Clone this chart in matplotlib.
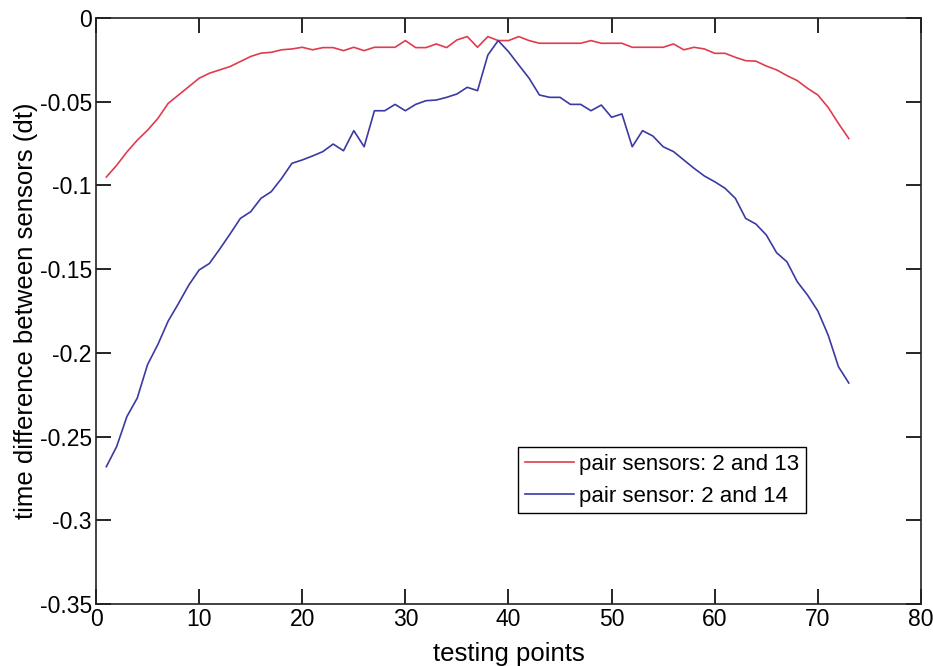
import matplotlib
matplotlib.use('Agg')
import matplotlib.pyplot as plt

# testing point index 1..73
points = list(range(1, 74))

# pair sensors 2 and 13
dt_2_13 = [-0.095, -0.088, -0.080, -0.073, -0.067, -0.060, -0.051, -0.046, -0.041, -0.036,
           -0.033, -0.031, -0.029, -0.026, -0.023, -0.021, -0.0205, -0.019, -0.0185, -0.0175,
           -0.019, -0.0177, -0.0177, -0.0195, -0.0175, -0.0195, -0.0175, -0.0175, -0.0175, -0.0135,
           -0.0177, -0.0177, -0.0155, -0.0177, -0.0131, -0.0111, -0.0175, -0.0111, -0.0135, -0.0135,
           -0.0111, -0.0135, -0.0151, -0.0151, -0.0151, -0.0151, -0.0151, -0.0135, -0.0151, -0.0151,
           -0.0151, -0.0175, -0.0175, -0.0175, -0.0175, -0.0155, -0.019, -0.0175, -0.0185, -0.0211,
           -0.0211, -0.0235, -0.0255, -0.0258, -0.0287, -0.031, -0.0344, -0.0374, -0.042, -0.046,
           -0.0534, -0.063, -0.072]

# pair sensors 2 and 14
dt_2_14 = [-0.268, -0.256, -0.238, -0.227, -0.207, -0.195, -0.181, -0.1705, -0.1595, -0.1505,
           -0.1466, -0.138, -0.129, -0.1197, -0.1157, -0.1077, -0.1037, -0.0958, -0.0868, -0.0848,
           -0.0824, -0.0798, -0.0753, -0.0793, -0.0673, -0.0769, -0.0554, -0.0554, -0.0516, -0.0554,
           -0.0516, -0.0494, -0.049, -0.0474, -0.0454, -0.0414, -0.0434, -0.0221, -0.0135, -0.0201,
           -0.0281, -0.036, -0.046, -0.0474, -0.0474, -0.0516, -0.0516, -0.0554, -0.052, -0.0593,
           -0.0573, -0.0769, -0.0673, -0.0705, -0.0769, -0.0798, -0.0848, -0.0898, -0.0944, -0.0978,
           -0.1017, -0.1077, -0.1197, -0.1231, -0.1296, -0.1402, -0.1456, -0.1575, -0.1655, -0.175,
           -0.1894, -0.2083, -0.218]

xticks = [0, 10, 20, 30, 40, 50, 60, 70, 80]
yticks = [0, -0.05, -0.1, -0.15, -0.2, -0.25, -0.3, -0.35]
ytick_labels = ['0', '-0.05', '-0.1', '-0.15', '-0.2', '-0.25', '-0.3', '-0.35']

plt.rcParams['font.family'] = ['Liberation Sans', 'DejaVu Sans']

fig = plt.figure(figsize=(9.33, 6.66), dpi=100)
ax = fig.add_axes([0.1029, 0.0931, 0.8842, 0.8799])

ax.plot(points, dt_2_13, color='#e03c4e', lw=1.2, label='pair sensors: 2 and 13')
ax.plot(points, dt_2_14, color='#3a3aa2', lw=1.2, label='pair sensor: 2 and 14')

ax.set_xlim(0, 80)
ax.set_ylim(-0.35, 0)
ax.set_xticks(xticks)
ax.set_yticks(yticks)
ax.set_yticklabels(ytick_labels)
ax.tick_params(direction='in', length=11, width=1.2, top=True, right=True,
               labelsize=16.5, pad=3)
for s in ax.spines.values():
    s.set_linewidth(1.2)
    s.set_color('#222222')

ax.set_xlabel('testing points', fontsize=18.5, labelpad=8)
ax.set_ylabel('time difference between sensors (dt)', fontsize=18.5, labelpad=1)

leg = ax.legend(loc='upper left', bbox_to_anchor=(0.5115, 0.268), borderaxespad=0,
                fontsize=16, fancybox=False, framealpha=1, edgecolor='black',
                handlelength=2.2, handletextpad=0.25, borderpad=0.3, labelspacing=0.5)
leg.get_frame().set_linewidth(1.0)

fig.savefig('out.png', dpi=100)
